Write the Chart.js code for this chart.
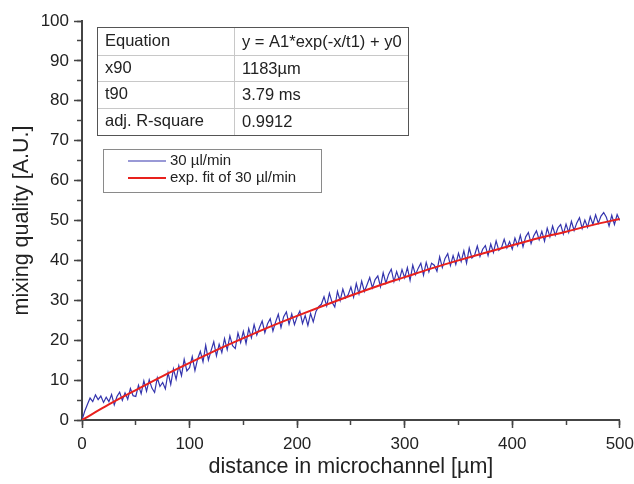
<!DOCTYPE html>
<html>
<head>
<meta charset="utf-8">
<script src="https://cdn.jsdelivr.net/npm/chart.js@4"></script>
<style>
  body { margin: 0; background: #fff; }
  #wrap { width: 634px; height: 484px; overflow: hidden; }
</style>
</head>
<body>
<div id="wrap"><canvas id="mixChart" width="640" height="484"></canvas></div>
<script>
// measured signal, one value every 2.5 µm
var sampleStep = 2.5;
var measured = [
    0, 2.2, 3.9, 5.5, 4.6, 6.3, 5.1, 6.0, 4.4, 5.7,
    4.6, 6.4, 3.8, 5.9, 7.0, 4.9, 6.8, 5.2, 7.9, 6.1,
    5.9, 8.7, 6.6, 9.8, 7.2, 10.1, 8.0, 6.9, 10.6, 8.4,
    9.4, 7.8, 11.9, 8.9, 12.8, 10.2, 13.6, 11.1, 15.2, 12.3,
    13.1, 15.9, 12.4, 15.3, 17.2, 14.6, 18.7, 15.0, 17.4, 19.6,
    16.1, 19.0, 16.9, 20.4, 17.6, 21.1, 18.6, 17.9, 21.8, 19.4,
    22.2, 19.2, 22.9, 20.6, 23.9, 21.3, 23.2, 24.8, 21.9, 24.1,
    25.4, 22.3, 24.6, 26.5, 23.2, 25.9, 27.1, 24.0, 26.6, 23.9,
    25.9, 27.3, 24.2, 26.2, 23.7, 26.7, 24.6, 27.2, 28.4, 29.0,
    30.9, 28.6, 31.8, 29.5, 28.3, 32.2, 29.9, 32.8, 30.6, 31.4,
    33.3, 30.8, 34.2, 31.6, 34.8, 32.2, 33.9, 35.7, 33.1, 35.2,
    36.1, 33.4, 36.9, 34.3, 36.5, 37.8, 34.7, 37.2, 35.1, 37.7,
    35.6, 38.2, 35.0, 38.8, 36.4, 38.0, 39.3, 36.3, 39.5, 37.1,
    39.3, 38.8, 37.3, 40.9, 38.2, 40.5, 41.7, 38.7, 41.2, 39.0,
    41.8, 39.7, 42.4, 39.3, 43.1, 40.6, 41.3, 43.6, 41.0, 42.8,
    43.7, 41.2, 44.1, 42.0, 44.9, 42.5, 43.2, 45.3, 43.1, 44.7,
    42.8, 45.6, 43.7, 46.3, 43.4, 45.9, 47.0, 44.2, 46.2, 47.4,
    45.2, 47.3, 44.8, 48.1, 45.9, 48.6, 46.3, 48.2, 49.0, 46.6,
    49.1, 47.0, 49.8, 47.5, 49.4, 50.7, 48.0, 50.1, 48.3, 51.0,
    49.0, 51.4, 49.3, 51.1, 52.0, 50.8, 48.6, 51.3, 49.0, 51.5,
    50.0
];

// exponential fit
var fitX = [0, 25, 50, 75, 100, 125, 150, 175, 200, 225, 250, 275, 300, 325, 350, 375, 400, 425, 450, 475, 500];
var fitY = [0, 3.9, 7.5, 11.0, 14.3, 17.5, 20.5, 23.4, 26.1, 28.7, 31.2, 33.6, 35.8, 38.0, 40.0, 41.9, 43.8, 45.6, 47.2, 48.9, 50.4];

var seriesNames = ['30 µl/min', 'exp. fit of 30 µl/min'];
var tableLabels = ['Equation', 'x90', 't90', 'adj. R-square'];
var tableValues = ['y = A1*exp(-x/t1) + y0', '1183µm', '3.79 ms', '0.9912'];

var blue = '#3434ad';
var red = '#e8211d';
var axisGrey = '#444';
var fontFam = '"Liberation Sans", Arial, sans-serif';

var measuredPts = measured.map(function(v, i) { return { x: i * sampleStep, y: v }; });
var fitPts = fitX.map(function(x, i) { return { x: x, y: fitY[i] }; });

// fit table + legend drawn inside the plot
var boxesPlugin = {
    id: 'boxes',
    afterDraw: function(chart) {
        var c = chart.ctx;
        c.save();
        // table
        var tl = 97, tr = 408, colX = 234;
        var rows = [27, 55, 81, 108, 135];
        c.strokeStyle = '#c8c8c8';
        c.lineWidth = 1;
        for (var r = 1; r < rows.length - 1; r++) {
            c.beginPath(); c.moveTo(tl, rows[r] + 0.5); c.lineTo(tr, rows[r] + 0.5); c.stroke();
        }
        c.beginPath(); c.moveTo(colX + 0.5, rows[0]); c.lineTo(colX + 0.5, rows[4]); c.stroke();
        c.strokeStyle = '#555';
        c.strokeRect(tl + 0.5, rows[0] + 0.5, tr - tl, rows[4] - rows[0]);
        c.fillStyle = '#222';
        c.font = '16.5px ' + fontFam;
        c.textBaseline = 'middle';
        for (var i = 0; i < tableLabels.length; i++) {
            var mid = (rows[i] + rows[i + 1]) / 2;
            c.fillText(tableLabels[i], 105, mid);
            c.fillText(tableValues[i], 242, mid + 1);
        }
        // legend
        c.strokeStyle = '#8a8a8a';
        c.strokeRect(103.5, 149.5, 218, 43);
        var legY = [161, 178];
        var cols = [blue, red];
        var widths = [1.2, 2];
        c.font = '15px ' + fontFam;
        for (var k = 0; k < 2; k++) {
            c.strokeStyle = cols[k];
            c.lineWidth = widths[k];
            c.beginPath(); c.moveTo(128, legY[k]); c.lineTo(166, legY[k]); c.stroke();
            c.fillText(seriesNames[k], 170, legY[k]);
        }
        c.restore();
    }
};

function fixWidth(w) { return function(scale) { scale.width = w; }; }
function fixHeight(h) { return function(scale) { scale.height = h; }; }

var ctx = document.getElementById('mixChart').getContext('2d');
var mixChart = new Chart(ctx, {
    type: 'line',
    data: {
        datasets: [
            {
                label: seriesNames[0],
                data: measuredPts,
                borderColor: blue,
                borderWidth: 1.2,
                pointRadius: 0,
                order: 1
            },
            {
                label: seriesNames[1],
                data: fitPts,
                borderColor: red,
                borderWidth: 2,
                pointRadius: 0,
                cubicInterpolationMode: 'monotone',
                order: 0
            }
        ]
    },
    options: {
        responsive: false,
        animation: false,
        layout: { padding: { top: 21, left: 0, right: 0, bottom: 0 } },
        plugins: {
            legend: { display: false },
            tooltip: { enabled: false }
        },
        scales: {
            x: {
                type: 'linear',
                position: 'bottom',
                weight: 1,
                min: 0,
                max: 500,
                afterFit: fixHeight(64),
                border: { display: true, color: axisGrey, width: 2 },
                grid: { drawOnChartArea: false, tickLength: 8, tickColor: axisGrey, tickWidth: 1.5 },
                ticks: { stepSize: 100, padding: 6, color: '#222', font: { family: fontFam, size: 17 } },
                title: {
                    display: true,
                    text: 'distance in microchannel [µm]',
                    color: '#222',
                    font: { family: fontFam, size: 21.5 },
                    padding: { top: 0, bottom: 4 }
                }
            },
            xMinor: {
                type: 'linear',
                position: 'bottom',
                weight: 0,
                min: 0,
                max: 500,
                afterFit: fixHeight(0),
                border: { display: false },
                grid: { drawOnChartArea: false, tickLength: 5, tickColor: axisGrey, tickWidth: 1.5 },
                ticks: { stepSize: 50, display: false }
            },
            y: {
                type: 'linear',
                position: 'left',
                weight: 1,
                min: 0,
                max: 100,
                afterFit: fixWidth(82),
                border: { display: true, color: axisGrey, width: 2 },
                grid: { drawOnChartArea: false, tickLength: 8, tickColor: axisGrey, tickWidth: 1.5 },
                ticks: { stepSize: 10, padding: 5, color: '#222', font: { family: fontFam, size: 17 } },
                title: {
                    display: true,
                    text: 'mixing quality [A.U.]',
                    color: '#222',
                    font: { family: fontFam, size: 21.5 },
                    padding: { top: 9, bottom: 0 }
                }
            },
            yMinor: {
                type: 'linear',
                position: 'left',
                weight: 0,
                min: 0,
                max: 100,
                afterFit: fixWidth(0),
                border: { display: false },
                grid: { drawOnChartArea: false, tickLength: 5, tickColor: axisGrey, tickWidth: 1.5 },
                ticks: { stepSize: 5, display: false }
            }
        }
    },
    plugins: [boxesPlugin]
});
</script>
</body>
</html>
